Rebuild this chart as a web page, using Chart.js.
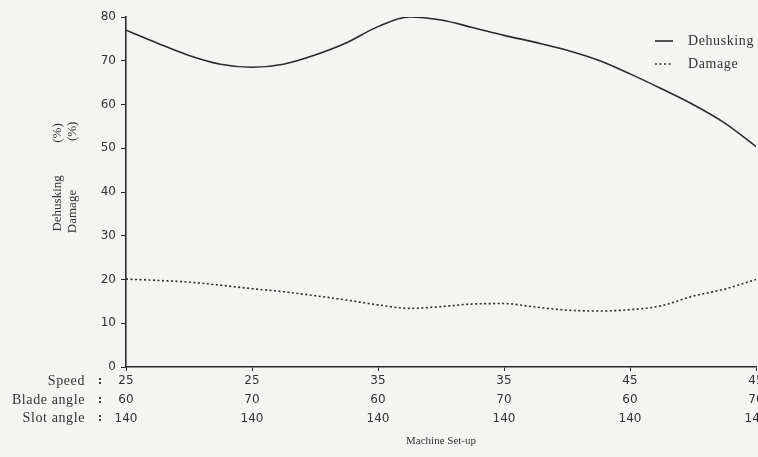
<!DOCTYPE html>
<html>
<head>
<meta charset="utf-8">
<script src="https://cdn.jsdelivr.net/npm/chart.js@4.4.1/dist/chart.umd.min.js"></script>
<style>
  html, body { margin: 0; padding: 0; background: #f4f4f2; }
</style>
</head>
<body>
<canvas id="setupChart" width="758" height="457"></canvas>
<script>
// position along the set-up axis (0 = first set-up, 5 = last)
const setupPos = [0, 0.25, 0.5, 0.75, 1, 1.25, 1.5, 1.75, 2, 2.25, 2.5, 2.75, 3, 3.25, 3.5, 3.75, 4, 4.25, 4.5, 4.75, 5];
const dehusking = [77.0, 74.0, 71.2, 69.2, 68.5, 69.2, 71.3, 74.1, 77.8, 80.0, 79.3, 77.6, 75.8, 74.2, 72.4, 70.1, 67.0, 63.6, 60.0, 55.8, 50.4];
const damage = [20.1, 19.8, 19.4, 18.7, 17.9, 17.2, 16.3, 15.3, 14.2, 13.4, 13.8, 14.4, 14.5, 13.7, 13.0, 12.8, 13.1, 14.0, 16.2, 17.8, 20.0];

const speedLabels = ['25', '25', '35', '35', '45', '45'];
const bladeLabels = ['60', '70', '60', '70', '60', '70'];
const slotLabels = ['140', '140', '140', '140', '140', '140'];
const rowNames = ['Speed', 'Blade angle', 'Slot angle'];
const yTickLabels = ['0', '10', '20', '30', '40', '50', '60', '70', '80'];

const ink = '#2b2b2b';
const textInk = '#333';
const tickFont = { family: 'DejaVu Sans', size: 12, lineHeight: 1.55 };
const serif = 'Liberation Serif';

function toPoints(values) {
  return values.map((v, i) => ({ x: setupPos[i], y: v }));
}

// paper coloured background
const paper = {
  id: 'paper',
  beforeDraw(chart) {
    const c = chart.ctx;
    c.save();
    c.fillStyle = '#f4f4f2';
    c.fillRect(0, 0, chart.width, chart.height);
    c.restore();
  }
};

// "Speed :", "Blade angle :", "Slot angle :" row names left of the x labels
const rowHeads = {
  id: 'rowHeads',
  afterDraw(chart) {
    const c = chart.ctx;
    const sx = chart.scales.x;
    const lh = tickFont.size * tickFont.lineHeight;
    c.save();
    c.fillStyle = textInk;
    c.textBaseline = 'middle';
    rowNames.forEach((name, r) => {
      const y = sx.top + 5 + lh * (r + 0.5);
      c.font = '14px "' + serif + '"';
      c.letterSpacing = '0.6px';
      c.textAlign = 'right';
      c.fillText(name, 85, y);
      c.letterSpacing = '0px';
      c.font = 'bold 11px "DejaVu Sans"';
      c.textAlign = 'center';
      c.fillText(':', 100, y);
    });
    c.restore();
  }
};

// small legend in the top right corner
const cornerLegend = {
  id: 'cornerLegend',
  afterDraw(chart) {
    const c = chart.ctx;
    c.save();
    chart.data.datasets.forEach((ds, i) => {
      const y = 41 + i * 23;
      c.strokeStyle = ds.borderColor;
      c.lineWidth = ds.borderWidth;
      c.setLineDash(ds.borderDash || []);
      c.beginPath();
      c.moveTo(655, y);
      c.lineTo(673, y);
      c.stroke();
      c.setLineDash([]);
      c.fillStyle = textInk;
      c.font = '14px "' + serif + '"';
      c.letterSpacing = '0.6px';
      c.textAlign = 'left';
      c.textBaseline = 'middle';
      c.fillText(ds.label, 688, y);
    });
    c.restore();
  }
};

const ctx = document.getElementById('setupChart').getContext('2d');
new Chart(ctx, {
  type: 'line',
  data: {
    datasets: [
      {
        label: 'Dehusking',
        data: toPoints(dehusking),
        borderColor: ink,
        borderWidth: 1.6,
        pointRadius: 0,
        cubicInterpolationMode: 'monotone',
        fill: false
      },
      {
        label: 'Damage',
        data: toPoints(damage),
        borderColor: ink,
        borderWidth: 1.6,
        borderDash: [2, 2.5],
        pointRadius: 0,
        cubicInterpolationMode: 'monotone',
        fill: false
      }
    ]
  },
  options: {
    responsive: false,
    animation: false,
    layout: { padding: { left: 49, top: 17, right: 2, bottom: 0 } },
    plugins: {
      legend: { display: false },
      tooltip: { enabled: false }
    },
    scales: {
      x: {
        type: 'linear',
        min: 0,
        max: 5,
        ticks: {
          stepSize: 1,
          autoSkip: false,
          maxRotation: 0,
          padding: 1,
          color: textInk,
          font: tickFont,
          callback: (v) => Number.isInteger(v) ? [speedLabels[v], bladeLabels[v], slotLabels[v]] : ''
        },
        grid: { drawOnChartArea: false, tickLength: 4, color: ink, lineWidth: 1 },
        border: { color: ink, width: 1.6 },
        title: {
          display: true,
          text: 'Machine Set-up',
          color: textInk,
          font: { family: serif, size: 11, lineHeight: 1.25 },
          padding: { top: 0, bottom: 9 }
        },
        afterFit: (s) => {
          s.height = 90;
          s.paddingLeft = 0;
          s.paddingRight = 0;
        }
      },
      y: {
        min: 0,
        max: 80,
        ticks: {
          stepSize: 10,
          padding: 5,
          color: textInk,
          font: { family: 'DejaVu Sans', size: 12 },
          callback: (v, i) => yTickLabels[i]
        },
        grid: { drawOnChartArea: false, tickLength: 5, color: ink, lineWidth: 1 },
        border: { color: ink, width: 1.6 },
        title: {
          display: true,
          text: ['         Dehusking          (%)', '         Damage               (%)'],
          color: textInk,
          font: { family: serif, size: 13, lineHeight: 1.15 },
          padding: { top: 1, bottom: 0 }
        },
        afterFit: (s) => { s.width = 77; }
      }
    }
  },
  plugins: [paper, rowHeads, cornerLegend]
});
</script>
</body>
</html>
